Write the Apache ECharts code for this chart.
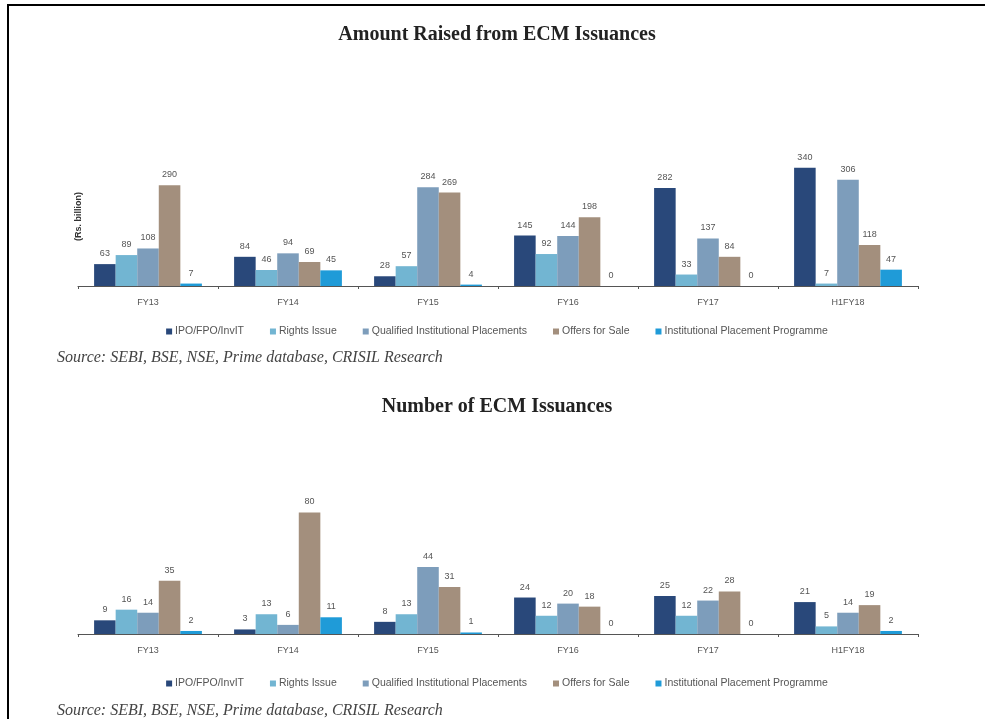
<!DOCTYPE html>
<html><head><meta charset="utf-8">
<script src="https://cdn.jsdelivr.net/npm/echarts@6/dist/echarts.min.js"></script>
<style>html,body{margin:0;padding:0;background:#fff}#c{width:994px;height:719px}</style>
</head><body><div id="c"></div>
<script>
const categories = ['FY13','FY14','FY15','FY16','FY17','H1FY18'];
const seriesNames = ['IPO/FPO/InvIT','Rights Issue','Qualified Institutional Placements','Offers for Sale','Institutional Placement Programme'];
// Amount raised (Rs. billion)
const amtIPO    = [63, 84, 28, 145, 282, 340];
const amtRights = [89, 46, 57, 92, 33, 7];
const amtQIP    = [108, 94, 284, 144, 137, 306];
const amtOFS    = [290, 69, 269, 198, 84, 118];
const amtIPP    = [7, 45, 4, 0, 0, 47];
// Number of issuances
const numIPO    = [9, 3, 8, 24, 25, 21];
const numRights = [16, 13, 13, 12, 12, 5];
const numQIP    = [14, 6, 44, 20, 22, 14];
const numOFS    = [35, 80, 31, 18, 28, 19];
const numIPP    = [2, 11, 1, 0, 0, 2];
const title1 = 'Amount Raised from ECM Issuances';
const title2 = 'Number of ECM Issuances';
const yName1 = '(Rs. billion)';
const sourceText = 'Source: SEBI, BSE, NSE, Prime database, CRISIL Research';

const colors = ['#29487a','#72b5d2','#7d9dbb','#a38f7d','#1f9bd8'];
const amtData = [amtIPO, amtRights, amtQIP, amtOFS, amtIPP];
const numData = [numIPO, numRights, numQIP, numOFS, numIPP];

const chart = echarts.init(document.getElementById('c'), null, {renderer:'canvas'});
const lblFont = {fontFamily:'Liberation Sans', fontSize:9, color:'#555'};

function mkSeries(data, idx){
  return data.map((d,i)=>({
    name: seriesNames[i], type:'bar', xAxisIndex:idx, yAxisIndex:idx,
    data:d, barGap:'0%', barCategoryGap:'23%',
    itemStyle:{color:colors[i]},
    label:{show:true, position:'top', distance:6, ...lblFont}
  }));
}
function mkX(idx, margin){
  return {type:'category', gridIndex:idx, data:categories,
    axisLine:{lineStyle:{color:'#555', width:1}},
    axisTick:{show:true, length:3, lineStyle:{color:'#555'}},
    axisLabel:{margin:margin, ...lblFont}};
}
function mkLegend(top){
  return {top:top, left:'center', icon:'rect', itemWidth:6, itemHeight:6, itemGap:26,
    data:seriesNames, textStyle:{fontFamily:'Liberation Sans', fontSize:10.5, color:'#555', padding:[0,0,0,-2]}};
}

chart.setOption({
  animation:false,
  color:colors,
  title:[
    {text:title1, left:'center', top:20, textStyle:{fontFamily:'Liberation Serif', fontWeight:'bold', fontSize:20, color:'#222'}},
    {text:title2, left:'center', top:392, textStyle:{fontFamily:'Liberation Serif', fontWeight:'bold', fontSize:20, color:'#222'}}
  ],
  legend:[ mkLegend(321), mkLegend(673) ],
  grid:[
    {left:78, right:76, top:147, height:139},
    {left:78, right:76, top:482, height:152}
  ],
  xAxis:[ mkX(0, 12), mkX(1, 12) ],
  yAxis:[
    {type:'value', gridIndex:0, min:0, max:400, show:true, axisLine:{show:false}, axisTick:{show:false}, axisLabel:{show:false}, splitLine:{show:false},
     name:yName1, nameLocation:'middle', nameRotate:90, nameGap:-5,
     nameTextStyle:{fontFamily:'Liberation Sans', fontSize:9, fontWeight:'bold', color:'#333', align:'center'}},
    {type:'value', gridIndex:1, min:0, max:100, show:true, axisLine:{show:false}, axisTick:{show:false}, axisLabel:{show:false}, splitLine:{show:false}}
  ],
  series:[...mkSeries(amtData,0), ...mkSeries(numData,1)],
  graphic:[
    {type:'rect', shape:{x:7, y:4, width:978, height:2}, style:{fill:'#000'}},
    {type:'rect', shape:{x:7, y:4, width:2, height:715}, style:{fill:'#000'}},
    {type:'text', left:57, top:350, style:{text:sourceText, font:'italic 16px "Liberation Serif"', fill:'#444'}},
    {type:'text', left:57, top:703, style:{text:sourceText, font:'italic 16px "Liberation Serif"', fill:'#444'}}
  ]
});
</script></body></html>
